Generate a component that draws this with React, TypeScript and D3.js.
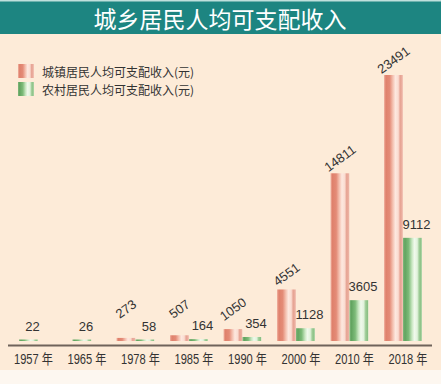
import React from 'react';
import * as d3 from 'd3';

const title = '城乡居民人均可支配收入';
const years = ['1957', '1965', '1978', '1985', '1990', '2000', '2010', '2018'];
const urban: (number | null)[] = [null, null, 273, 507, 1050, 4551, 14811, 23491];
const rural: number[] = [22, 26, 58, 164, 354, 1128, 3605, 9112];
const seriesNames = ['城镇居民人均可支配收入(元)', '农村居民人均可支配收入(元)'];
const seriesKeys = ['urban', 'rural'];

const W = 441;
const H = 384;

const urbanStops: [number, string][] = [
  [0, '#f1b4a3'], [0.1, '#df816c'], [0.3, '#e48b77'], [0.45, '#f3bdac'],
  [0.6, '#fde8df'], [0.75, '#fadcd1'], [0.85, '#e6a292'], [0.95, '#ecb1a2'], [1, '#f6cfc3'],
];
const ruralStops: [number, string][] = [
  [0, '#80b87c'], [0.1, '#62a460'], [0.3, '#7dbb79'], [0.48, '#cbe8c4'],
  [0.6, '#f0f9ec'], [0.75, '#e1f2dc'], [0.85, '#9ecc97'], [0.95, '#8bc185'], [1, '#cde7c7'],
];

export default function App() {
  const x = d3.scaleBand<string>().domain(years).range([9.5, 422]).paddingInner(0.29).paddingOuter(0);
  const xs = d3.scaleBand<string>().domain(seriesKeys).range([0, x.bandwidth()]);
  const y = d3.scaleLinear().domain([0, 23491]).range([341, 75]);
  const bw = xs.bandwidth();
  const barH = (v: number) => Math.max(y(0) - y(v), 1.5);

  const font = "'Liberation Sans', Arial, 'Noto Sans CJK SC', sans-serif";
  const cjk = "'Noto Sans CJK SC', 'Noto Sans', sans-serif";

  return (
    <svg width={W} height={H} style={{ position: 'absolute', left: 0, top: 0 }}>
      <defs>
        <linearGradient id="gu" x1="0" x2="1" y1="0" y2="0">
          {urbanStops.map(([o, c], i) => <stop key={i} offset={o} stopColor={c} />)}
        </linearGradient>
        <linearGradient id="gr" x1="0" x2="1" y1="0" y2="0">
          {ruralStops.map(([o, c], i) => <stop key={i} offset={o} stopColor={c} />)}
        </linearGradient>
      </defs>
      <rect x={0} y={0} width={W} height={H} fill="#fdebd8" />
      <rect x={0} y={370} width={W} height={H - 370} fill="#fdf7f0" />
      <rect x={0} y={0} width={W} height={34} fill="#1d8581" />
      <rect x={0} y={0} width={W} height={1.5} fill="#bfe0dc" />
      <text x={220} y={18} textAnchor="middle" dominantBaseline="central" fill="#ffffff"
        fontSize={23} fontFamily={cjk}>{title}</text>

      {/* legend */}
      {seriesNames.map((n, i) => (
        <g key={n} transform={`translate(18, ${64 + i * 18})`}>
          <rect x={0} y={0} width={16} height={14} fill={i === 0 ? 'url(#gu)' : 'url(#gr)'} />
          <text x={24} y={7} dominantBaseline="central" fontSize={12} fill="#333" fontFamily={cjk}>{n}</text>
        </g>
      ))}

      {/* bars */}
      {years.map((yr, i) => {
        const g0 = x(yr)!;
        const u = urban[i];
        const r = rural[i];
        const rx = u == null ? g0 + (x.bandwidth() - bw) / 2 : g0 + xs('rural')!;
        const ux = g0 + xs('urban')!;
        const rTop = y(0) - barH(r);
        return (
          <g key={yr}>
            {u != null && (
              <rect x={ux} y={y(0) - barH(u)} width={bw} height={barH(u)} fill="url(#gu)" />
            )}
            <rect x={rx} y={rTop} width={bw} height={barH(r)} fill="url(#gr)" />
            {u != null && (
              <text transform={`translate(${ux + bw / 2}, ${Math.min(y(u) - 15, 309)}) rotate(-36)`}
                textAnchor="middle" dominantBaseline="central" fontSize={13} fill="#333" fontFamily={font}>
                {u}
              </text>
            )}
            <text x={rx + bw / 2 + 4} y={Math.min(rTop - 9, 332)} textAnchor="middle" fontSize={13}
              fill="#333" fontFamily={font}>{r}</text>
            <text x={g0 + x.bandwidth() / 2 + 5} y={359} textAnchor="middle" dominantBaseline="central"
              fontSize={14} fill="#333" fontFamily={font} textLength={39} lengthAdjust="spacingAndGlyphs">
              {`${yr} 年`}
            </text>
          </g>
        );
      })}

      <line x1={8} x2={432} y1={345.5} y2={345.5} stroke="#6f635a" strokeWidth={2} />
    </svg>
  );
}
